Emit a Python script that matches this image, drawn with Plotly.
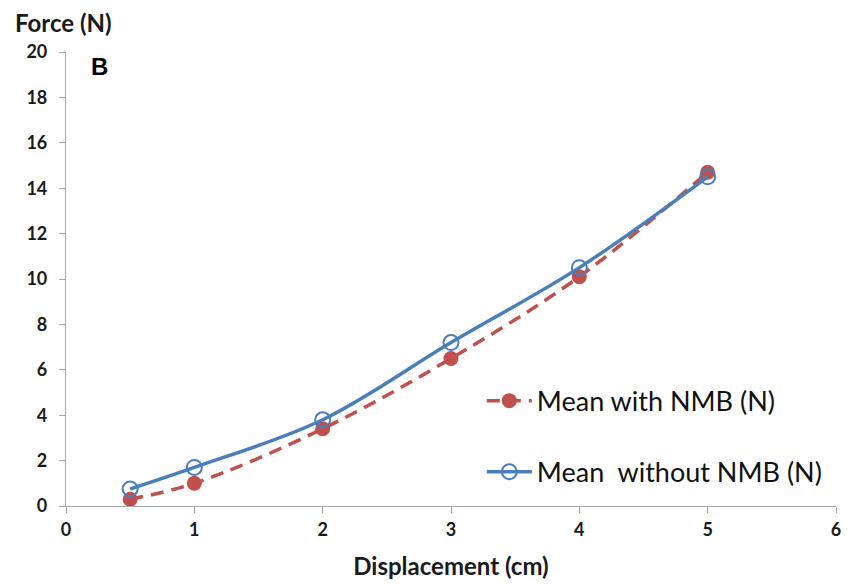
import plotly.graph_objects as go

displacement = [0.5, 1, 2, 3, 4, 5]
mean_with_nmb = [0.3, 1.0, 3.4, 6.5, 10.1, 14.7]
mean_without_nmb = [0.75, 1.7, 3.8, 7.2, 10.5, 14.5]
x_ticks = [0, 1, 2, 3, 4, 5, 6]
y_ticks = [0, 2, 4, 6, 8, 10, 12, 14, 16, 18, 20]

RED = "#C0504D"
BLUE = "#4A7EBB"
FONT = "Lato"

fig = go.Figure()
fig.add_trace(go.Scatter(
    x=displacement, y=mean_with_nmb, name="Mean with NMB (N)",
    mode="lines+markers", line=dict(color=RED, width=3.5, dash="13px,8px", shape="spline"),
    marker=dict(color=RED, size=15, symbol="circle"), legendgroup="a",
))
fig.add_trace(go.Scatter(
    x=displacement, y=mean_without_nmb, name="Mean  without NMB (N)",
    mode="lines+markers", line=dict(color=BLUE, width=3.5, shape="spline"),
    marker=dict(color=BLUE, size=15, symbol="circle-open", line=dict(color=BLUE, width=2)),
    legendgroup="b",
))

# page body has an 8px default margin; margins compensate so the plot area lands where the reference has it
fig.update_layout(
    width=853, height=585,
    margin=dict(l=58, r=25, t=44, b=87),
    paper_bgcolor="white", plot_bgcolor="white",
    font=dict(family=FONT, color="#1a1a1a"),
    showlegend=True,
    legend=dict(
        x=0.54, y=0.285, xanchor="left", yanchor="top",
        font=dict(family=FONT, size=27, color="#111"),
        traceorder="grouped", tracegroupgap=33, itemwidth=45,
        bgcolor="rgba(0,0,0,0)",
    ),
    xaxis=dict(
        range=[0, 6], tickvals=x_ticks, showgrid=False, zeroline=False,
        showline=True, linecolor="#a6a6a6", linewidth=1.2,
        ticks="outside", ticklen=6, tickcolor="#a6a6a6",
        tickfont=dict(family=FONT, size=18, color="#1a1a1a", weight="bold"),
        ticklabelstandoff=1, automargin=False,
        title=dict(text="<b>Displacement (cm)</b>", font=dict(family=FONT, size=24, color="#1a1a1a"), standoff=19),
    ),
    yaxis=dict(
        range=[0, 20], tickvals=y_ticks, showgrid=False, zeroline=False,
        showline=True, linecolor="#a6a6a6", linewidth=1.2,
        ticks="outside", ticklen=6, tickcolor="#a6a6a6",
        tickfont=dict(family=FONT, size=18, color="#1a1a1a", weight="bold"),
        ticklabelstandoff=8, automargin=False,
    ),
    annotations=[
        dict(text="<b>Force (N)</b>", xref="paper", yref="paper", x=-0.069, y=1.028,
             xanchor="left", yanchor="bottom", showarrow=False,
             font=dict(family=FONT, size=24, color="#1a1a1a")),
        dict(text="<b>B</b>", xref="paper", yref="paper", x=0.03, y=1.003,
             xanchor="left", yanchor="top", showarrow=False,
             font=dict(family="Liberation Sans", size=24, color="#000")),
    ],
)

fig.write_html("out.html")
